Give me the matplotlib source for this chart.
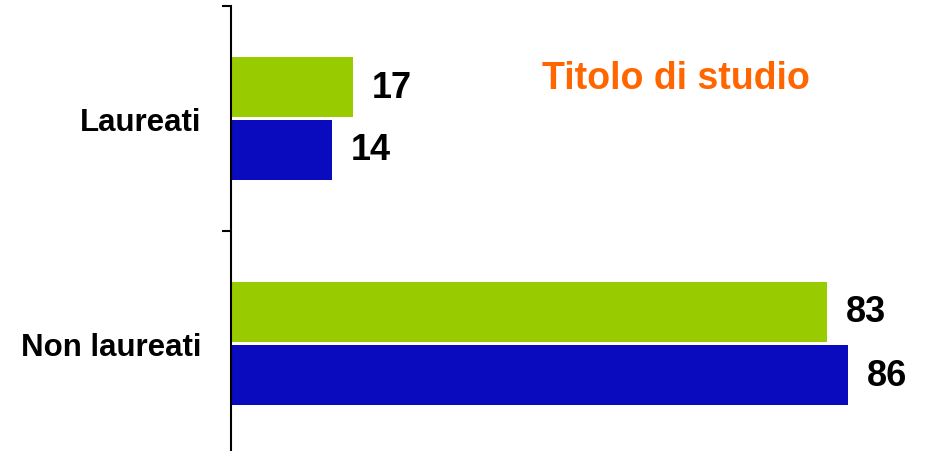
import matplotlib
matplotlib.use("Agg")
import matplotlib.pyplot as plt
import numpy as np

categories = ["Laureati", "Non laureati"]
series_green = [17, 83]
series_blue = [14, 86]
title = "Titolo di studio"

plt.rcParams['font.family'] = ['Liberation Sans', 'DejaVu Sans']

fig = plt.figure(figsize=(9.32, 4.52), dpi=100)
ax = fig.add_axes([231/932, -5/452, 1 - 231/932, 450/452])

y = np.arange(len(categories))
h = 0.264
off = 0.14
bg = ax.barh(y - off, series_green, height=h, color="#99CC00")
bb = ax.barh(y + off, series_blue, height=h, color="#0A0ABF")

for bars, vals in ((bg, series_green), (bb, series_blue)):
    for rect, v in zip(bars, vals):
        ax.annotate(str(v), (rect.get_width(), rect.get_y() + rect.get_height()/2),
                    xytext=(13.5, 0), textcoords="offset points", va="center", ha="left",
                    fontsize=26, fontweight="bold", color="black")

ax.set_xlim(0, 701/7.18)
ax.set_ylim(1.5, -0.5)
for s in ("top", "right", "bottom"):
    ax.spines[s].set_visible(False)
ax.spines["left"].set_linewidth(1.5)
ax.set_xticks([])
ax.set_yticks(y)
ax.set_yticklabels(categories, fontsize=22.5, fontweight="bold")
ax.tick_params(axis="y", which="major", length=0, pad=21)
ax.set_yticks([-0.5, 0.5, 1.5], minor=True)
ax.tick_params(axis="y", which="minor", length=6.5, width=1.5)

fig.text(675.5/932, 1 - 79/452, title, color="#FF6600", fontsize=27, fontweight="bold",
         ha="center", va="center")

fig.savefig("out.png", dpi=100)
